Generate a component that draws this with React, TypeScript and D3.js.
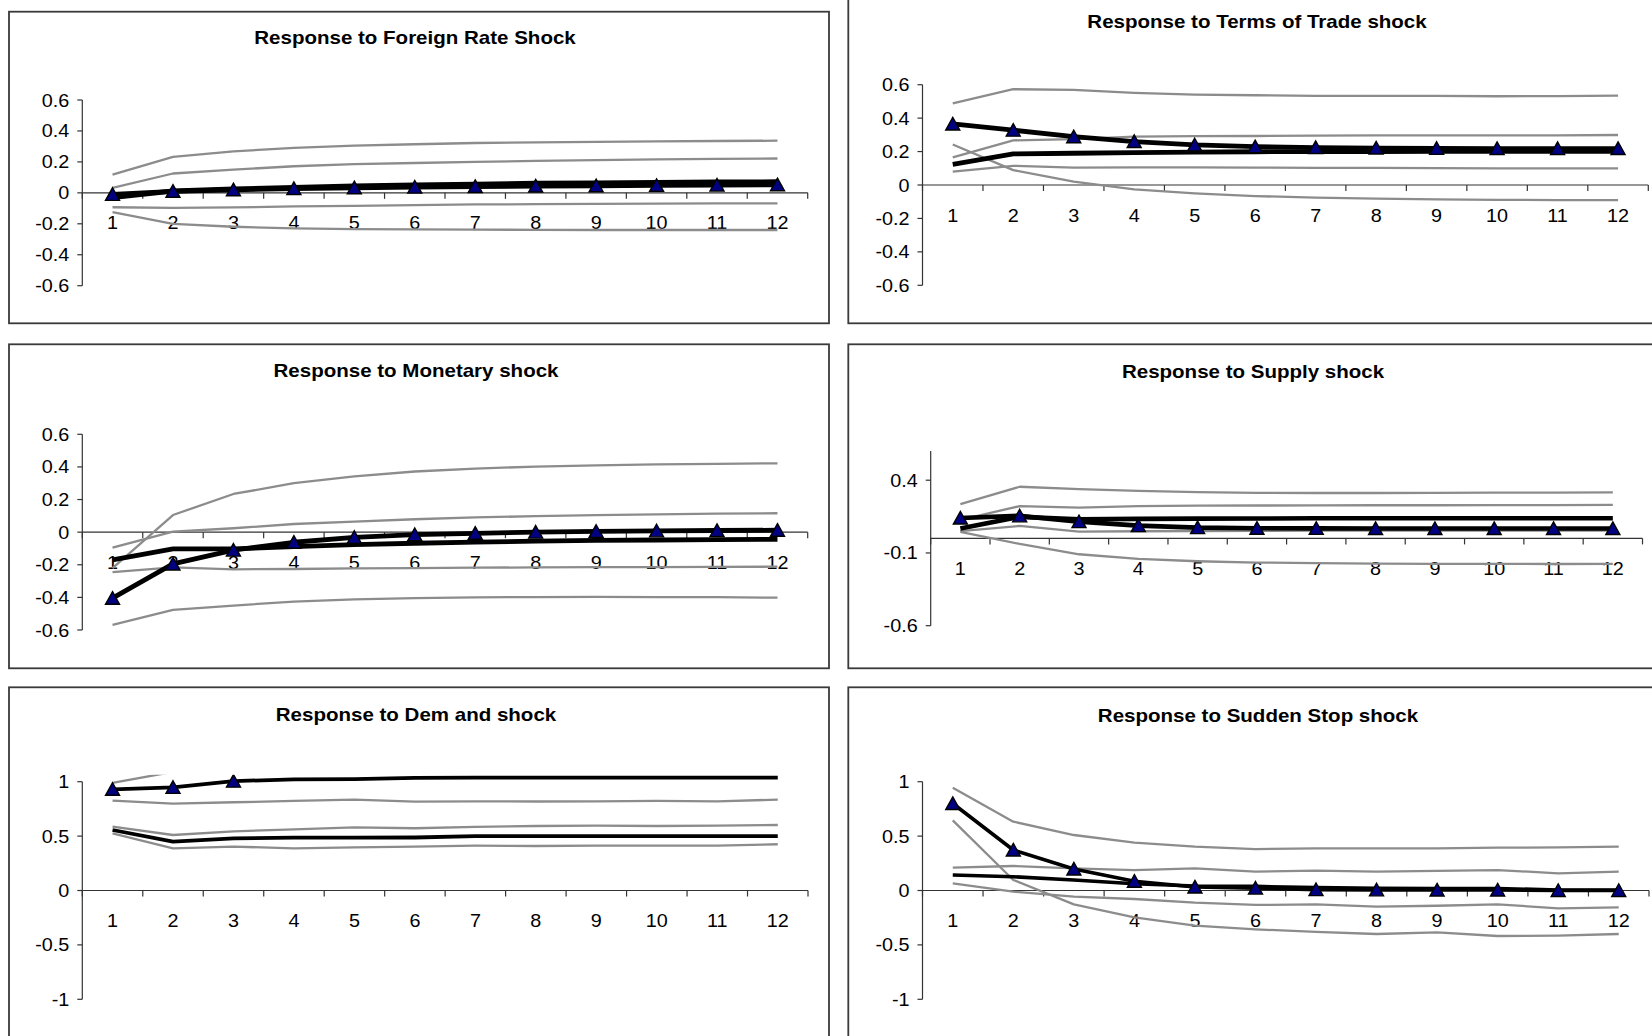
import React from "react";
import * as d3 from "d3";

const periods = [1, 2, 3, 4, 5, 6, 7, 8, 9, 10, 11, 12];

// Panel 1: Foreign rate shock
const foreignTitle = "Response to Foreign Rate Shock";
const foreignTicks = [-0.6, -0.4, -0.2, 0, 0.2, 0.4, 0.6];
const foreignTriangle = [-0.01, 0.01, 0.02, 0.028, 0.033, 0.037, 0.041, 0.044, 0.046, 0.048, 0.05, 0.052];
const foreignSolid = [-0.03, 0.012, 0.025, 0.036, 0.045, 0.052, 0.057, 0.062, 0.065, 0.068, 0.07, 0.072];
const foreignUpperA = [0.118, 0.232, 0.268, 0.29, 0.305, 0.314, 0.322, 0.326, 0.33, 0.333, 0.335, 0.337];
const foreignUpperB = [0.032, 0.125, 0.15, 0.172, 0.185, 0.193, 0.2, 0.206, 0.212, 0.216, 0.219, 0.222];
const foreignLowerB = [-0.093, -0.097, -0.094, -0.088, -0.084, -0.079, -0.075, -0.073, -0.071, -0.069, -0.068, -0.068];
const foreignLowerA = [-0.125, -0.2, -0.219, -0.23, -0.234, -0.236, -0.238, -0.239, -0.24, -0.24, -0.24, -0.24];

// Panel 2: Terms of trade shock
const totTitle = "Response to Terms of Trade shock";
const totTicks = [-0.6, -0.4, -0.2, 0, 0.2, 0.4, 0.6];
const totTriangle = [0.365, 0.328, 0.289, 0.26, 0.24, 0.229, 0.224, 0.221, 0.219, 0.218, 0.218, 0.218];
const totSolid = [0.123, 0.186, 0.19, 0.194, 0.197, 0.199, 0.2, 0.2, 0.201, 0.201, 0.201, 0.202];
const totUpperA = [0.489, 0.573, 0.569, 0.551, 0.541, 0.537, 0.533, 0.533, 0.533, 0.531, 0.532, 0.535];
const totUpperB = [0.165, 0.267, 0.275, 0.289, 0.292, 0.293, 0.295, 0.297, 0.297, 0.297, 0.297, 0.299];
const totLowerB = [0.08, 0.115, 0.104, 0.106, 0.106, 0.104, 0.103, 0.102, 0.101, 0.1, 0.1, 0.1];
const totLowerA = [0.242, 0.089, 0.02, -0.026, -0.05, -0.066, -0.076, -0.082, -0.086, -0.089, -0.09, -0.09];

// Panel 3: Monetary shock
const monTitle = "Response to Monetary shock";
const monTicks = [-0.6, -0.4, -0.2, 0, 0.2, 0.4, 0.6];
const monTriangle = [-0.405, -0.195, -0.11, -0.062, -0.032, -0.015, -0.007, 0.0, 0.005, 0.008, 0.01, 0.012];
const monSolid = [-0.17, -0.103, -0.103, -0.089, -0.077, -0.068, -0.061, -0.055, -0.05, -0.048, -0.046, -0.044];
const monUpperA = [-0.22, 0.105, 0.234, 0.3, 0.342, 0.372, 0.39, 0.402, 0.41, 0.415, 0.419, 0.422];
const monUpperB = [-0.095, 0.003, 0.024, 0.05, 0.065, 0.079, 0.09, 0.098, 0.104, 0.109, 0.113, 0.116];
const monLowerB = [-0.245, -0.216, -0.228, -0.226, -0.222, -0.22, -0.218, -0.216, -0.215, -0.214, -0.213, -0.212];
const monLowerA = [-0.569, -0.477, -0.45, -0.426, -0.412, -0.404, -0.4, -0.398, -0.397, -0.398, -0.399, -0.402];

// Panel 4: Supply shock
const supTitle = "Response to Supply shock";
const supTicks = [-0.6, -0.1, 0.4];
const supTriangle = [0.14, 0.155, 0.115, 0.088, 0.074, 0.07, 0.069, 0.068, 0.068, 0.068, 0.068, 0.068];
const supSolid = [0.068, 0.148, 0.132, 0.134, 0.136, 0.137, 0.138, 0.139, 0.139, 0.139, 0.139, 0.139];
const supUpperA = [0.235, 0.355, 0.338, 0.326, 0.318, 0.313, 0.312, 0.312, 0.313, 0.314, 0.315, 0.316];
const supUpperB = [0.128, 0.222, 0.212, 0.222, 0.225, 0.226, 0.227, 0.228, 0.228, 0.229, 0.229, 0.23];
const supLowerB = [0.05, 0.086, 0.047, 0.049, 0.051, 0.052, 0.053, 0.053, 0.054, 0.054, 0.054, 0.054];
const supLowerA = [0.045, -0.038, -0.109, -0.141, -0.157, -0.166, -0.17, -0.173, -0.175, -0.175, -0.176, -0.175];

// Panel 5: Demand shock
const demTitle = "Response to Dem and shock";
const demTicks = [-1, -0.5, 0, 0.5, 1];
const demTriangle = [0.93, 0.948, 1.005, 1.022, 1.024, 1.036, 1.037, 1.037, 1.037, 1.037, 1.037, 1.037];
const demMarkedPoints = 3;
const demSolid = [0.556, 0.449, 0.48, 0.486, 0.486, 0.487, 0.5, 0.5, 0.5, 0.5, 0.5, 0.5];
const demUpperA = [0.99, 1.09, 1.17, 1.2, 1.22, 1.23, 1.24, 1.24, 1.25, 1.25, 1.25, 1.25];
const demLowerA = [0.826, 0.798, 0.811, 0.823, 0.836, 0.816, 0.82, 0.818, 0.82, 0.823, 0.82, 0.835];
const demUpperB = [0.587, 0.51, 0.544, 0.562, 0.58, 0.572, 0.584, 0.593, 0.596, 0.593, 0.597, 0.602];
const demLowerB = [0.526, 0.388, 0.403, 0.388, 0.397, 0.403, 0.412, 0.409, 0.412, 0.412, 0.412, 0.425];

// Panel 6: Sudden stop shock
const ssTitle = "Response to Sudden Stop shock";
const ssTicks = [-1, -0.5, 0, 0.5, 1];
const ssTriangle = [0.8, 0.372, 0.198, 0.085, 0.032, 0.022, 0.008, 0.006, 0.005, 0.005, 0.0, 0.0];
const ssSolid = [0.142, 0.127, 0.097, 0.062, 0.041, 0.038, 0.026, 0.02, 0.018, 0.018, 0.005, 0.003];
const ssUpperA = [0.945, 0.633, 0.51, 0.44, 0.403, 0.381, 0.387, 0.387, 0.388, 0.394, 0.396, 0.403];
const ssLowerA = [0.645, 0.097, -0.127, -0.247, -0.323, -0.357, -0.381, -0.4, -0.384, -0.418, -0.415, -0.4];
const ssUpperB = [0.21, 0.225, 0.204, 0.188, 0.204, 0.173, 0.182, 0.173, 0.18, 0.188, 0.158, 0.173];
const ssLowerB = [0.066, -0.011, -0.057, -0.078, -0.112, -0.133, -0.127, -0.149, -0.14, -0.127, -0.164, -0.155];

const FONT = "'Liberation Sans', Arial, Helvetica, sans-serif";
const SX_LABEL = 1.1;
const SX_TITLE = 1.14;
const LABEL_SIZE = 18;
const TITLE_SIZE = 18;
const GRAY = "#8c8c8c";

type PanelDef = {
  id: string;
  title: string;
  ticks: number[];
  domain: [number, number];
  triangle: number[];
  solid: number[];
  grays: number[][];
  marked: number;
  box: { x0: number; y0: number; x1: number; y1: number };
  titleX: number;
  titleY: number;
  plot: { x0: number; x1: number; yBottom: number; yTop: number };
  blackWidth: number;
};

const panels: PanelDef[] = [
  {
    id: "p1", title: foreignTitle, ticks: foreignTicks, domain: [-0.6, 0.6],
    triangle: foreignTriangle, solid: foreignSolid,
    grays: [foreignUpperA, foreignUpperB, foreignLowerB, foreignLowerA], marked: 12,
    box: { x0: 9, y0: 11.7, x1: 829, y1: 323.3 }, titleX: 415, titleY: 44,
    plot: { x0: 82.3, x1: 807.7, yBottom: 285.7, yTop: 100 }, blackWidth: 4.8,
  },
  {
    id: "p2", title: totTitle, ticks: totTicks, domain: [-0.6, 0.6],
    triangle: totTriangle, solid: totSolid,
    grays: [totUpperA, totUpperB, totLowerB, totLowerA], marked: 12,
    box: { x0: 848.3, y0: -5, x1: 1668, y1: 323.3 }, titleX: 1257, titleY: 27.5,
    plot: { x0: 922.5, x1: 1648.3, yBottom: 285.3, yTop: 84.7 }, blackWidth: 4.8,
  },
  {
    id: "p3", title: monTitle, ticks: monTicks, domain: [-0.6, 0.6],
    triangle: monTriangle, solid: monSolid,
    grays: [monUpperA, monUpperB, monLowerB, monLowerA], marked: 12,
    box: { x0: 9, y0: 344.3, x1: 829, y1: 668.3 }, titleX: 416, titleY: 376.5,
    plot: { x0: 82.3, x1: 807.7, yBottom: 630, yTop: 434.3 }, blackWidth: 4.8,
  },
  {
    id: "p4", title: supTitle, ticks: supTicks, domain: [-0.6, 0.6],
    triangle: supTriangle, solid: supSolid,
    grays: [supUpperA, supUpperB, supLowerB, supLowerA], marked: 12,
    box: { x0: 848.3, y0: 344.3, x1: 1668, y1: 668.3 }, titleX: 1253, titleY: 378,
    plot: { x0: 930.7, x1: 1642.5, yBottom: 625.7, yTop: 451.1 }, blackWidth: 4.6,
  },
  {
    id: "p5", title: demTitle, ticks: demTicks, domain: [-1, 1],
    triangle: demTriangle, solid: demSolid,
    grays: [demUpperA, demLowerA, demUpperB, demLowerB], marked: demMarkedPoints,
    box: { x0: 9, y0: 687.3, x1: 829, y1: 1060 }, titleX: 416, titleY: 721,
    plot: { x0: 82.3, x1: 808, yBottom: 999.3, yTop: 781.7 }, blackWidth: 3.8,
  },
  {
    id: "p6", title: ssTitle, ticks: ssTicks, domain: [-1, 1],
    triangle: ssTriangle, solid: ssSolid,
    grays: [ssUpperA, ssLowerA, ssUpperB, ssLowerB], marked: 12,
    box: { x0: 848.3, y0: 687.3, x1: 1668, y1: 1060 }, titleX: 1258, titleY: 721.5,
    plot: { x0: 922.5, x1: 1649, yBottom: 999.3, yTop: 781.7 }, blackWidth: 3.6,
  },
];

const triPath = "M0,-6.6 L7,6 L-7,6 Z";

function fmt(v: number) {
  if (v === 0) return "0";
  return String(v);
}

function Panel({ p }: { p: PanelDef }) {
  const x = d3.scaleBand<number>().domain(periods).range([p.plot.x0, p.plot.x1]).paddingInner(0).paddingOuter(0);
  const cx = (i: number) => (x(periods[i]) as number) + x.bandwidth() / 2;
  const y = d3.scaleLinear().domain(p.domain).range([p.plot.yBottom, p.plot.yTop]);
  const line = d3.line<number>().x((_, i) => cx(i)).y((d) => y(d));
  const y0 = y(0);
  const axisTop = y(p.domain[1]);
  const boundaries = d3.range(periods.length + 1).map((i) => p.plot.x0 + i * x.bandwidth());
  const clipId = `clip-${p.id}`;
  return (
    <g>
      <rect x={p.box.x0} y={p.box.y0} width={p.box.x1 - p.box.x0} height={p.box.y1 - p.box.y0}
        fill="#fff" stroke="#3a3a3a" strokeWidth={1.8} />
      <defs>
        <clipPath id={clipId}>
          <rect x={p.plot.x0 - 20} y={axisTop - 7} width={p.plot.x1 - p.plot.x0 + 40} height={p.plot.yBottom - axisTop + 14} />
        </clipPath>
      </defs>
      <text transform={`translate(${p.titleX},${p.titleY}) scale(${SX_TITLE},1)`} textAnchor="middle"
        fontFamily={FONT} fontWeight="bold" fontSize={TITLE_SIZE} fill="#000">{p.title}</text>
      {/* y axis */}
      <line x1={p.plot.x0} x2={p.plot.x0} y1={axisTop} y2={p.plot.yBottom} stroke="#333" strokeWidth={1.2} />
      {p.ticks.map((t) => (
        <g key={t}>
          <line x1={p.plot.x0 - 5} x2={p.plot.x0} y1={y(t)} y2={y(t)} stroke="#333" strokeWidth={1.2} />
          <text transform={`translate(${p.plot.x0 - 13},${y(t) + 6.5}) scale(${SX_LABEL},1)`} textAnchor="end"
            fontFamily={FONT} fontSize={LABEL_SIZE} fill="#000">{fmt(t)}</text>
        </g>
      ))}
      {/* x axis */}
      <line x1={p.plot.x0} x2={p.plot.x1} y1={y0} y2={y0} stroke="#333" strokeWidth={1.2} />
      {boundaries.map((bx, i) => (
        <line key={i} x1={bx} x2={bx} y1={y0} y2={y0 + 6} stroke="#333" strokeWidth={1.2} />
      ))}
      {periods.map((per, i) => (
        <text key={per} transform={`translate(${cx(i)},${y0 + 36.5}) scale(${SX_LABEL},1)`} textAnchor="middle"
          fontFamily={FONT} fontSize={LABEL_SIZE} fill="#000">{per}</text>
      ))}
      <g clipPath={`url(#${clipId})`}>
        {p.grays.map((g, i) => (
          <path key={i} d={line(g) || ""} fill="none" stroke={GRAY} strokeWidth={2.3} strokeLinejoin="round" />
        ))}
        <path d={line(p.solid) || ""} fill="none" stroke="#000" strokeWidth={p.blackWidth} strokeLinejoin="round" />
        <path d={line(p.triangle) || ""} fill="none" stroke="#000" strokeWidth={p.blackWidth} strokeLinejoin="round" />
        {p.triangle.slice(0, p.marked).map((v, i) => (
          <path key={i} d={triPath} transform={`translate(${cx(i)},${y(v)})`} fill="#000080" stroke="#000" strokeWidth={1.4} />
        ))}
      </g>
    </g>
  );
}

export default function App() {
  return (
    <svg width={1652} height={1036} style={{ position: "absolute", left: 0, top: 0, background: "#fff" }}>
      <rect x={0} y={0} width={1652} height={1036} fill="#fff" />
      {panels.map((p) => (
        <Panel key={p.id} p={p} />
      ))}
    </svg>
  );
}
